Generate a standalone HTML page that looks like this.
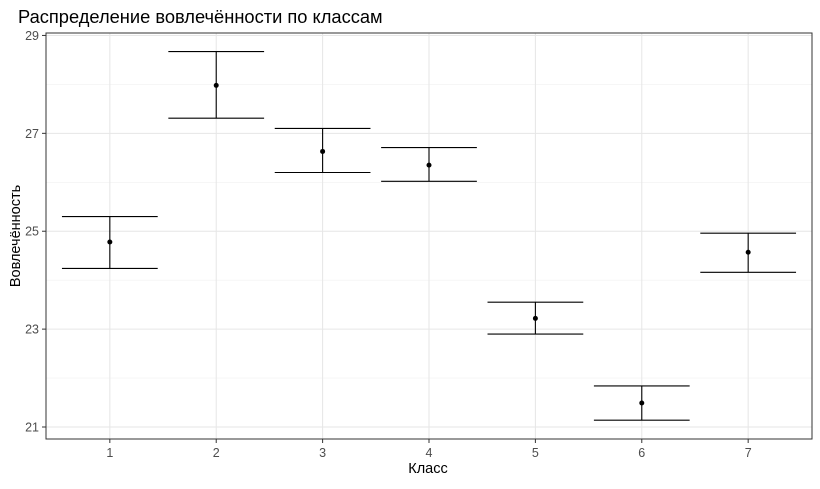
<!DOCTYPE html>
<html><head><meta charset="utf-8"><style>
body{margin:0;background:#fff;font-family:"Liberation Sans","DejaVu Sans",sans-serif}
</style></head><body>
<svg id="chart" width="820" height="484" xmlns="http://www.w3.org/2000/svg">
<text x="18" y="23" font-size="18.3" fill="#000">Распределение вовлечённости по классам</text>
<g id="grid"></g><g id="marks"></g><g id="axes"></g>
<text x="428" y="473" font-size="14.5" text-anchor="middle" fill="#000">Класс</text>
<text transform="translate(20,236) rotate(-90)" font-size="14.5" text-anchor="middle" fill="#000">Вовлечённость</text>
</svg>
<script>
const categories=["1","2","3","4","5","6","7"];
const means=[24.78,27.98,26.63,26.35,23.22,21.49,24.57];
const uppers=[25.30,28.67,27.10,26.71,23.55,21.84,24.96];
const lowers=[24.24,27.31,26.20,26.02,22.90,21.14,24.16];
const yTicks=[21,23,25,27,29];
const yMinor=[22,24,26,28];
const L=46,R=812,T=33,B=439,ymin=20.755,ymax=29.05;
const ns="http://www.w3.org/2000/svg";
const xs=i=>L+(i+0.6)*(R-L)/(categories.length+0.2);
const ys=v=>B-(v-ymin)/(ymax-ymin)*(B-T);
function mk(p,tag,a){const e=document.createElementNS(ns,tag);for(const k in a)e.setAttribute(k,a[k]);p.appendChild(e);return e;}
const g=document.getElementById('grid'),m=document.getElementById('marks'),ax=document.getElementById('axes');
yMinor.forEach(v=>{const l=mk(g,'line',{x1:L,x2:R,y1:ys(v),y2:ys(v),stroke:'#f0f0f0','stroke-width':0.6});

});
yTicks.forEach(v=>{const l=mk(g,'line',{x1:L,x2:R,y1:ys(v),y2:ys(v),stroke:'#e6e6e6','stroke-width':1});


const t=mk(ax,'line',{x1:L-4,x2:L,y1:ys(v),y2:ys(v),stroke:'#333'});


const tx=mk(ax,'text',{x:L-7,y:ys(v)+4.5,'font-size':12.5,'text-anchor':'end',fill:'#4d4d4d'});tx.textContent=v;

});
categories.forEach((c,i)=>{const x=xs(i);
const l=mk(g,'line',{x1:x,x2:x,y1:T,y2:B,stroke:'#e6e6e6','stroke-width':1});


const t=mk(ax,'line',{x1:x,x2:x,y1:B,y2:B+4,stroke:'#333'});


const tx=mk(ax,'text',{x:x,y:B+18,'font-size':12.5,'text-anchor':'middle',fill:'#4d4d4d'});tx.textContent=c;


const w=(R-L)/(categories.length+0.2)*0.45;
const eb=mk(m,'g',{stroke:'#000','stroke-width':1.1});


mk(eb,'line',{x1:x,x2:x,y1:ys(uppers[i]),y2:ys(lowers[i])});
mk(eb,'line',{x1:x-w,x2:x+w,y1:ys(uppers[i]),y2:ys(uppers[i])});
mk(eb,'line',{x1:x-w,x2:x+w,y1:ys(lowers[i]),y2:ys(lowers[i])});
const p=mk(m,'circle',{cx:x,cy:ys(means[i]),r:2.5,fill:'#000'});

});
const fr=mk(ax,'rect',{x:L,y:T,width:R-L,height:B-T,fill:'none',stroke:'#333','stroke-width':1});


</script>
</body></html>
